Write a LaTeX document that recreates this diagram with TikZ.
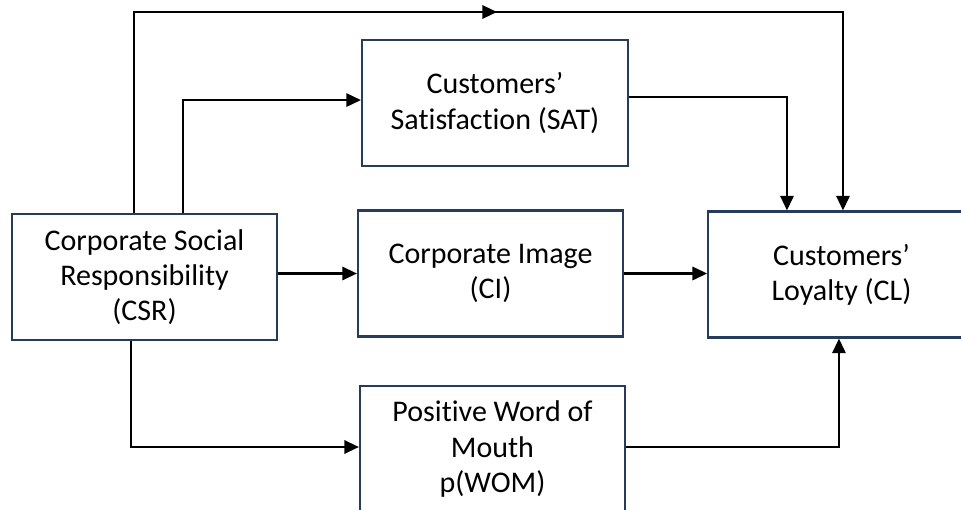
\documentclass[tikz,border=0pt]{standalone}
\usepackage{fontspec}
\setmainfont{Carlito}[Ligatures={TeX,NoCommon}]
\usetikzlibrary{arrows.meta}
\definecolor{boxline}{RGB}{38,60,90}
\tikzset{
  factor/.style={draw=boxline, line width=1.6pt, align=center, inner sep=2pt,
    minimum height=94.5pt, font=\fontsize{22.5}{26.3}\selectfont},
  link/.style={line width=1.7pt, -{Triangle[length=11pt,width=10pt]}}
}
\begin{document}
\begin{tikzpicture}[x=0.75pt, y=-0.75pt]
    \useasboundingbox (0,0) rectangle (961,510);
    \node[factor, minimum width=198.75pt] (csr) at (144.5, 277) {Corporate Social\\ Responsibility\\ (CSR)};
    \node[factor, minimum width=199.5pt] (sat) at (495, 103) {Customers'\\ Satisfaction (SAT)};
    \node[factor, minimum width=198.75pt] (ci) at (490.5, 273.5) {Corporate Image\\ (CI)};
    \node[factor, minimum width=200pt] (cl) at (841.5, 274.5) {Customers'\\ Loyalty (CL)};
    \node[factor, minimum width=198.75pt] (wom) at (492.5, 449) {Positive Word of\\ Mouth\\ p(WOM)};
    \coordinate (topmid) at (497, 12);
    %\draw (a) to (b);
    \draw [line width=1.7pt] ([xshift=-7.9pt]csr.north) |- (topmid);
    \draw [link] ([xshift=-8pt]csr.north |- topmid) -- (topmid);
    \draw [link] (topmid) -| ([xshift=1.1pt]cl.north);
    \draw [link] ([xshift=28.9pt]csr.north) |- ([yshift=2.2pt]sat.west);
    \draw [link] ([yshift=4.5pt]sat.east) -| ([xshift=-40.9pt]cl.north);
    \draw [link] (csr.east |- ci.west) to (ci.west);
    \draw [link] (ci.east) to (ci.east -| cl.west);
    \draw [link] ([xshift=-10.1pt]csr.south) |- ([yshift=1.5pt]wom.west);
    \draw [link] ([yshift=1.5pt]wom.east) -| ([xshift=-1.9pt]cl.south);
\end{tikzpicture}
\end{document}
